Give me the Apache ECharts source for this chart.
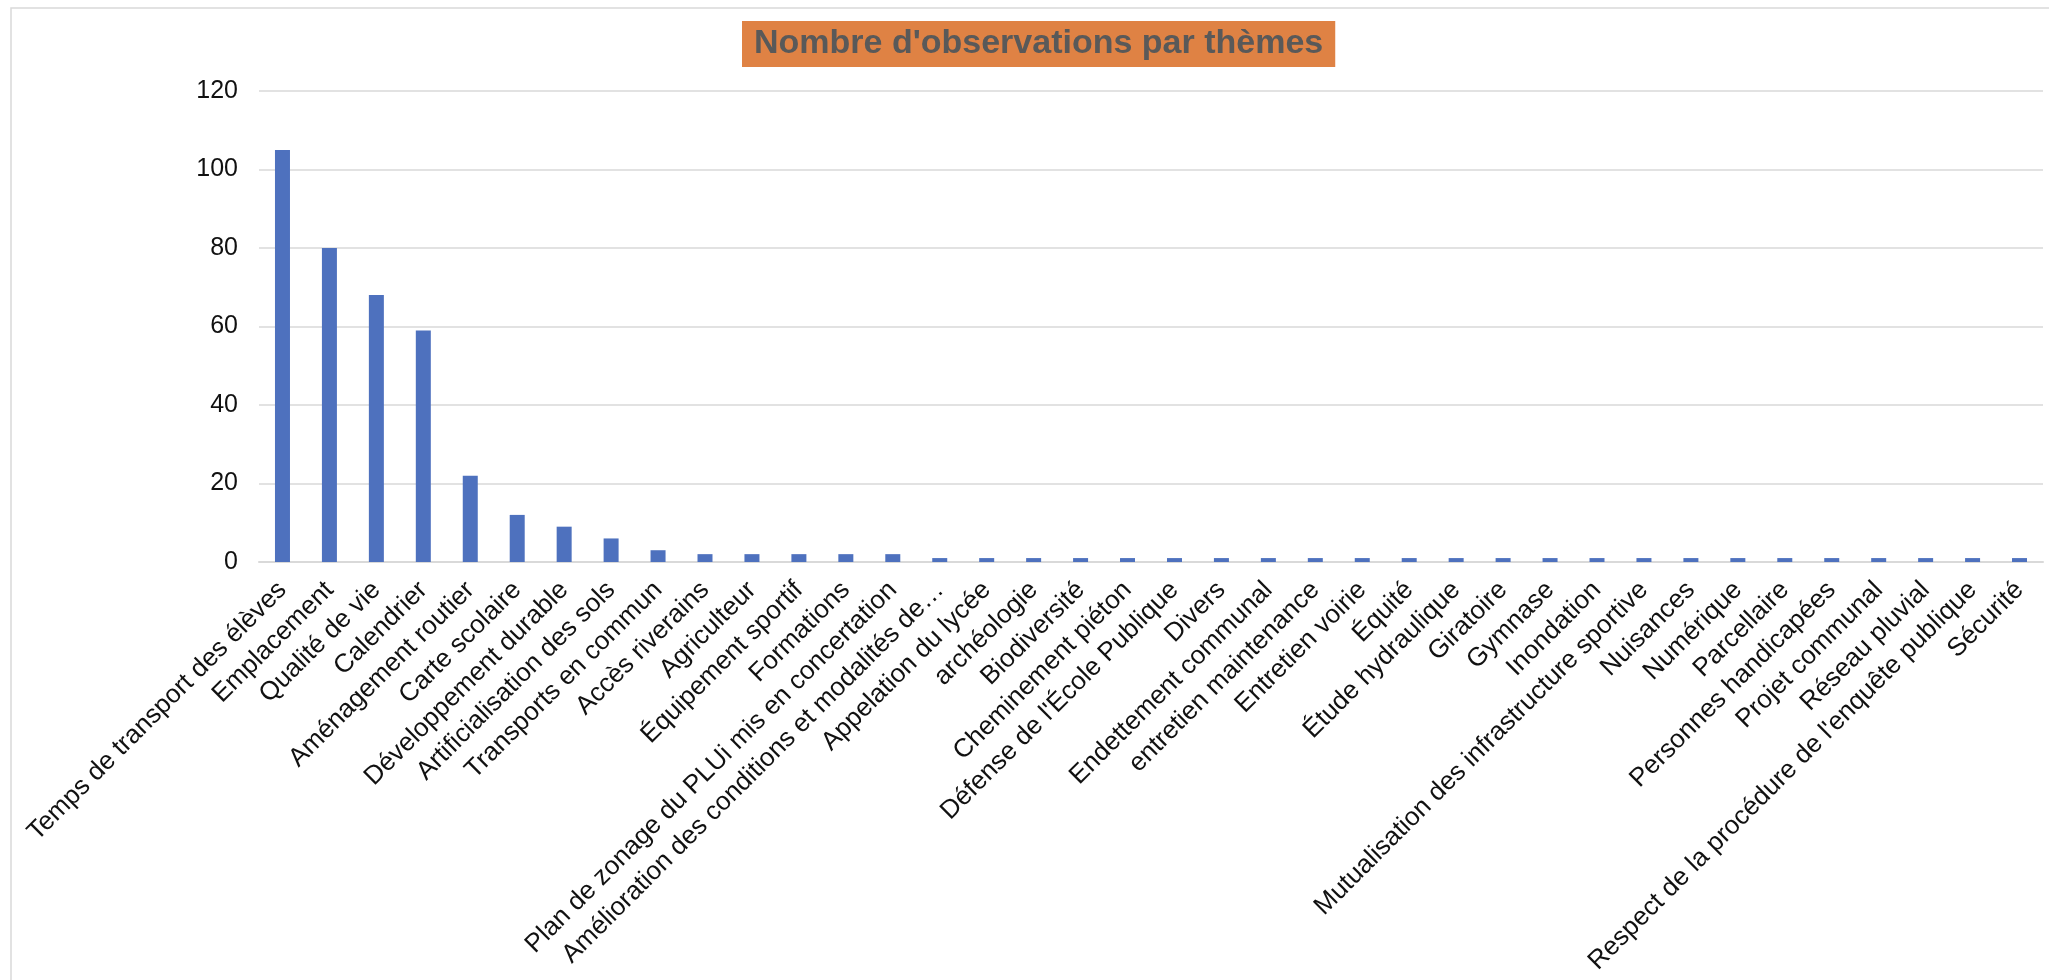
<!DOCTYPE html>
<html lang="fr">
<head>
<meta charset="utf-8">
<title>Nombre d'observations par thèmes</title>
<script src="https://cdn.jsdelivr.net/npm/echarts@6/dist/echarts.min.js"></script>
<style>
  html, body { margin: 0; padding: 0; background: #ffffff; }
  #chart { width: 2049px; height: 980px; }
</style>
</head>
<body>
<div id="chart"></div>
<script>
// Thèmes des observations, dans l'ordre décroissant du nombre d'observations
const themes = [
  "Temps de transport des élèves",
  "Emplacement",
  "Qualité de vie",
  "Calendrier",
  "Aménagement routier",
  "Carte scolaire",
  "Développement durable",
  "Artificialisation des sols",
  "Transports en commun",
  "Accès riverains",
  "Agriculteur",
  "Équipement sportif",
  "Formations",
  "Plan de zonage du PLUi mis en concertation",
  "Amélioration des conditions et modalités de…",
  "Appelation du lycée",
  "archéologie",
  "Biodiversité",
  "Cheminement piéton",
  "Défense de l'École Publique",
  "Divers",
  "Endettement communal",
  "entretien maintenance",
  "Entretien voirie",
  "Équité",
  "Étude hydraulique",
  "Giratoire",
  "Gymnase",
  "Inondation",
  "Mutualisation des infrastructure sportive",
  "Nuisances",
  "Numérique",
  "Parcellaire",
  "Personnes handicapées",
  "Projet communal",
  "Réseau pluvial",
  "Respect de la procédure de l'enquête publique",
  "Sécurité"
];

// Nombre d'observations par thème
const observations = [
  105, 80, 68, 59, 22, 12, 9, 6, 3,
  2, 2, 2, 2, 2,
  1, 1, 1, 1, 1, 1, 1, 1, 1, 1, 1, 1, 1, 1, 1, 1, 1, 1, 1, 1, 1, 1, 1, 1
];

// Graduations de l'axe des valeurs
const yTicks = { min: 0, max: 120, interval: 20 };

const titre = "Nombre d'observations par thèmes";

const FONT = "'Liberation Sans', Arial, Helvetica, sans-serif";

const chart = echarts.init(document.getElementById('chart'), null, { renderer: 'canvas' });

chart.setOption({
  backgroundColor: '#ffffff',
  animation: false,
  textStyle: { fontFamily: FONT },
  title: {
    text: titre,
    left: 742,
    top: 21,
    padding: [5, 12, 5, 12],
    backgroundColor: '#DF8244',
    textStyle: {
      fontFamily: FONT,
      fontSize: 34,
      fontWeight: 'bold',
      color: '#595959',
      lineHeight: 36
    }
  },
  graphic: [{
    type: 'rect',
    silent: true,
    z: -1,
    shape: { x: 11, y: 8, width: 2100, height: 1000 },
    style: { fill: 'none', stroke: '#d9d9d9', lineWidth: 1.5 }
  }],
  grid: {
    left: 259,
    right: 6,
    top: 91,
    bottom: 418,
    containLabel: false
  },
  xAxis: {
    type: 'category',
    data: themes,
    axisLine: { show: true, lineStyle: { color: '#d9d9d9', width: 2 } },
    axisTick: { show: false },
    axisLabel: {
      interval: 0,
      rotate: 45,
      margin: 24,
      fontFamily: FONT,
      fontSize: 26,
      color: '#111111'
    }
  },
  yAxis: {
    type: 'value',
    min: yTicks.min,
    max: yTicks.max,
    interval: yTicks.interval,
    axisLine: { show: false },
    axisTick: { show: false },
    splitLine: { lineStyle: { color: '#d9d9d9', width: 1.5 } },
    axisLabel: {
      margin: 21,
      fontFamily: FONT,
      fontSize: 25,
      color: '#111111'
    }
  },
  series: [{
    type: 'bar',
    data: observations,
    barWidth: 15,
    itemStyle: { color: '#4E71BE' }
  }]
});
</script>
</body>
</html>
